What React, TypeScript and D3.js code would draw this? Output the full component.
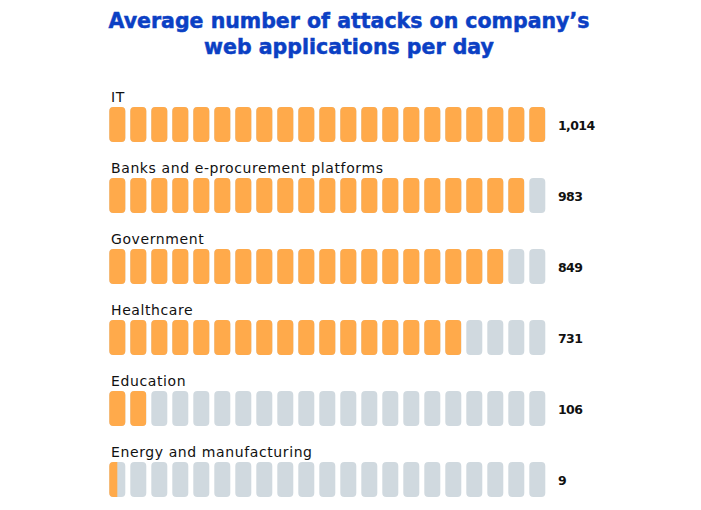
import React from "react";
import * as d3 from "d3";

const categories = [
  "IT",
  "Banks and e-procurement platforms",
  "Government",
  "Healthcare",
  "Education",
  "Energy and manufacturing",
];
const values = [1014, 983, 849, 731, 106, 9];
const filledUnits = [21, 20, 19, 17, 2, 0.5];
const totalUnits = 21;
const titleLines = ["Average number of attacks on company’s", "web applications per day"];

const W = 701;
const H = 510;
const ORANGE = "#ffaa4b";
const GRAY = "#d0d9df";
const FONT = "'DejaVu Sans', sans-serif";

export default function App() {
  const rowY = d3.scalePoint<string>().domain(categories).range([107, 462]);
  const unitX = d3
    .scaleLinear()
    .domain([0, totalUnits - 1])
    .range([109.3, 529.3]);
  const blockW = 16;
  const blockH = 35;
  const fmt = d3.format(",");

  return (
    <svg width={W} height={H} style={{ position: "absolute", left: 0, top: 0 }}>
      <defs>
        {categories.map((c, i) => {
          const f = filledUnits[i];
          const full = Math.floor(f);
          const frac = f - full;
          const x0 = unitX(0);
          const xe = full > 0 ? unitX(full - 1) + blockW : x0;
          const xFrac = frac > 0 ? unitX(full) + frac * blockW : xe;
          return (
            <clipPath id={`clip-${i}`} key={c}>
              <rect x={x0 - 1} y={0} width={Math.max(0, xFrac - x0 + 1)} height={H} />
            </clipPath>
          );
        })}
      </defs>
      {titleLines.map((t, i) => (
        <text
          key={t}
          x={349}
          y={28 + i * 26}
          textAnchor="middle"
          fontFamily={FONT}
          fontWeight={700}
          fontSize={20.5}
          fill="#0b40c4"
          stroke="#0b40c4"
          strokeWidth={0.5}
        >
          {t}
        </text>
      ))}
      {categories.map((c, i) => {
        const y = rowY(c)!;
        const idx = d3.range(totalUnits);
        return (
          <g key={c}>
            <text
              x={111}
              y={y - 5}
              fontFamily={FONT}
              fontSize={14}
              letterSpacing={0.6}
              fill="#111"
            >
              {c}
            </text>
            {idx.map((k) => (
              <rect
                key={`g${k}`}
                x={unitX(k)}
                y={y}
                width={blockW}
                height={blockH}
                rx={4}
                fill={GRAY}
              />
            ))}
            <g clipPath={`url(#clip-${i})`}>
              {idx.map((k) => (
                <rect
                  key={`o${k}`}
                  x={unitX(k)}
                  y={y}
                  width={blockW}
                  height={blockH}
                  rx={4}
                  fill={ORANGE}
                />
              ))}
            </g>
            <text
              x={558}
              y={y + blockH / 2 + 5}
              fontFamily={FONT}
              fontWeight={700}
              fontSize={12.5}
              letterSpacing={-0.6}
              fill="#111"
            >
              {fmt(values[i])}
            </text>
          </g>
        );
      })}
    </svg>
  );
}
